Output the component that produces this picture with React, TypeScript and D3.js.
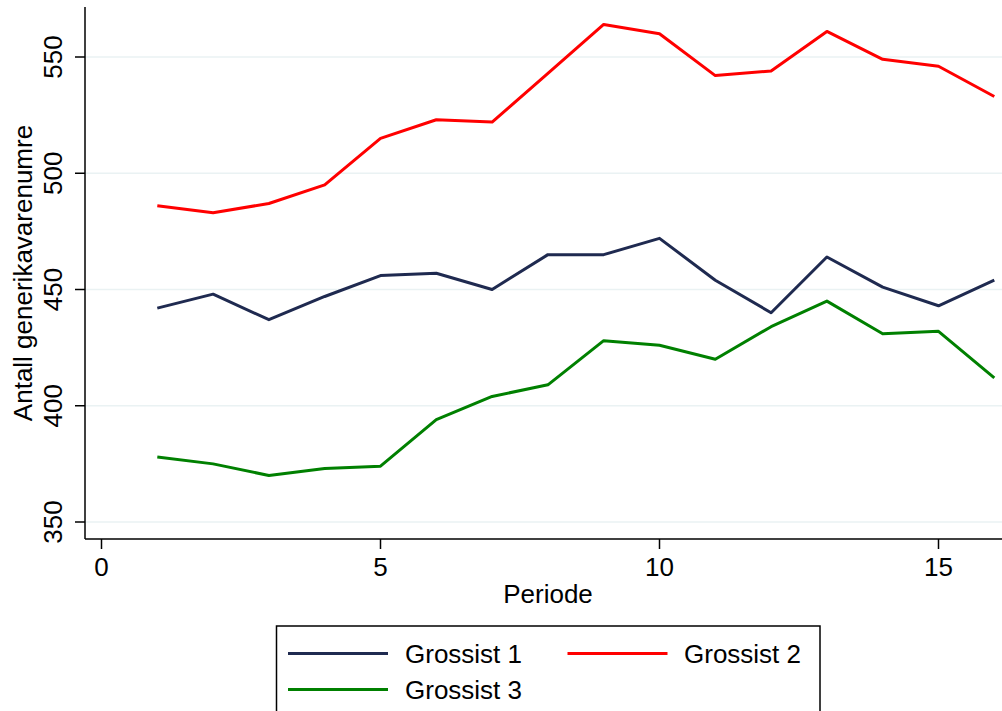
import React from "react";
import * as d3 from "d3";

const periods = [1, 2, 3, 4, 5, 6, 7, 8, 9, 10, 11, 12, 13, 14, 15, 16];
const grossist1 = [442, 448, 437, 447, 456, 457, 450, 465, 465, 472, 454, 440, 464, 451, 443, 454];
const grossist2 = [486, 483, 487, 495, 515, 523, 522, 543, 564, 560, 542, 544, 561, 549, 546, 533];
const grossist3 = [378, 375, 370, 373, 374, 394, 404, 409, 428, 426, 420, 434, 445, 431, 432, 412];
const xTicks = [0, 5, 10, 15];
const yTicks = [350, 400, 450, 500, 550];
const seriesNames = ["Grossist 1", "Grossist 2", "Grossist 3"];
const seriesColors = ["#1f2a50", "#ff0000", "#008000"];

const W = 1002;
const H = 711;
const FONT = "'Liberation Sans', Arial, Helvetica, sans-serif";

export default function App() {
  const left = 85;
  const right = 1002;
  const top = 7;
  const bottom = 539;

  const x = d3.scaleLinear().domain([0, 16]).range([101.5, 994.3]);
  const y = d3.scaleLinear().domain([350, 550]).range([522, 57]);

  const line = d3
    .line<number>()
    .x((_, i) => x(periods[i]))
    .y((d) => y(d));

  const series = [grossist1, grossist2, grossist3];

  const legendItems = [
    { name: seriesNames[0], color: seriesColors[0], lx: 288, tx: 405, ly: 653.5 },
    { name: seriesNames[1], color: seriesColors[1], lx: 567.5, tx: 684, ly: 653.5 },
    { name: seriesNames[2], color: seriesColors[2], lx: 288, tx: 405, ly: 689.5 },
  ];

  return (
    <svg
      width={W}
      height={H}
      style={{ position: "absolute", left: 0, top: 0, background: "#fff" }}
      fontFamily={FONT}
    >
      <rect x={0} y={0} width={W} height={H} fill="#fff" />
      {/* gridlines */}
      {yTicks.map((t) => (
        <line key={"g" + t} x1={left} x2={right} y1={y(t)} y2={y(t)} stroke="#eaf2f3" strokeWidth={1.6} />
      ))}
      {/* series */}
      {series.map((s, i) => (
        <path key={i} d={line(s) || ""} fill="none" stroke={seriesColors[i]} strokeWidth={3} strokeLinejoin="round" />
      ))}
      {/* y axis */}
      <line x1={left} x2={left} y1={top} y2={bottom} stroke="#000" strokeWidth={1.5} />
      {yTicks.map((t) => (
        <g key={"yt" + t}>
          <line x1={left - 10} x2={left} y1={y(t)} y2={y(t)} stroke="#000" strokeWidth={1.5} />
          <text
            transform={`translate(${62},${y(t)}) rotate(-90)`}
            textAnchor="middle"
            fontSize={26}
            fill="#000"
          >
            {t}
          </text>
        </g>
      ))}
      <text
        transform={`translate(${32},${273}) rotate(-90)`}
        textAnchor="middle"
        fontSize={26}
        fill="#000"
      >
        Antall generikavarenumre
      </text>
      {/* x axis */}
      <line x1={left} x2={right} y1={bottom} y2={bottom} stroke="#000" strokeWidth={1.5} />
      {xTicks.map((t) => (
        <g key={"xt" + t}>
          <line x1={x(t)} x2={x(t)} y1={bottom} y2={bottom + 10} stroke="#000" strokeWidth={1.5} />
          <text x={x(t)} y={576} textAnchor="middle" fontSize={26} fill="#000">
            {t}
          </text>
        </g>
      ))}
      <text x={548} y={603} textAnchor="middle" fontSize={26} fill="#000">
        Periode
      </text>
      {/* legend */}
      <rect x={276.5} y={626} width={543.5} height={100} fill="#fff" stroke="#000" strokeWidth={1.5} />
      {legendItems.map((it) => (
        <g key={it.name}>
          <line x1={it.lx} x2={it.lx + 100} y1={it.ly} y2={it.ly} stroke={it.color} strokeWidth={3} />
          <text x={it.tx} y={it.ly + 9.5} fontSize={26} fill="#000">
            {it.name}
          </text>
        </g>
      ))}
    </svg>
  );
}
